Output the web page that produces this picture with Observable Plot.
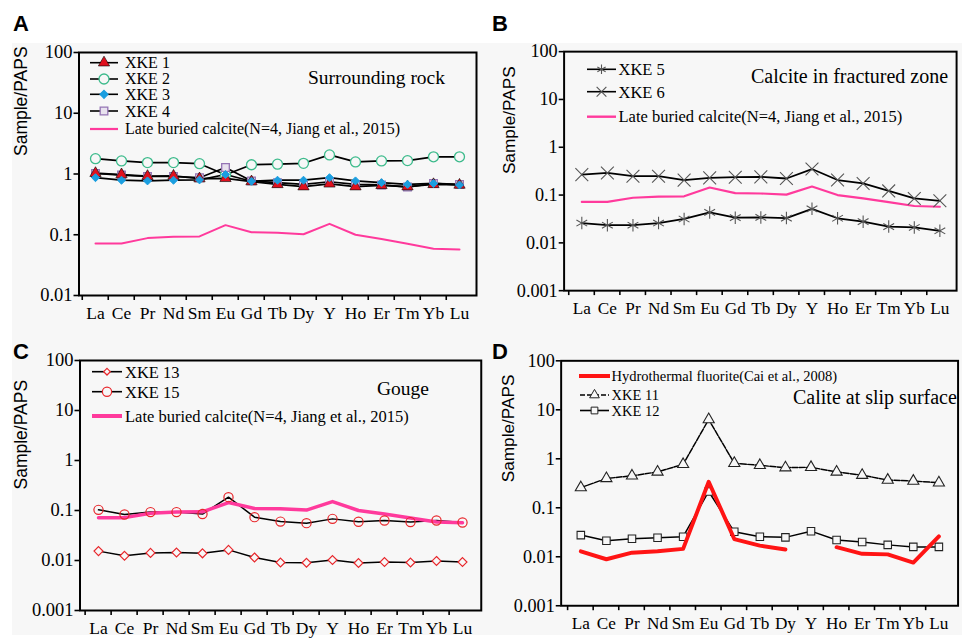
<!DOCTYPE html>
<html><head><meta charset="utf-8">
<script src="https://cdn.jsdelivr.net/npm/d3@7"></script>
<script src="https://cdn.jsdelivr.net/npm/@observablehq/plot@0.6"></script>
<style>
html,body{margin:0;padding:0;background:#fff;overflow:hidden;}
#wrap{position:relative;width:962px;height:640px;overflow:hidden;}
#bg{position:absolute;left:12px;top:43px;width:950px;height:592px;background:#f7f7f7;}
.panel{position:absolute;}
.panel svg{overflow:visible;}
#overlay{position:absolute;left:0;top:0;}
</style></head><body>
<div id="wrap"><div id="bg"></div></div>
<script>
// ---------- data ----------
const elements = ["La","Ce","Pr","Nd","Sm","Eu","Gd","Tb","Dy","Y","Ho","Er","Tm","Yb","Lu"];
const yTicksA = [0.01, 0.1, 1, 10, 100];
const yTicks = [0.001, 0.01, 0.1, 1, 10, 100];

// Late buried calcite (N=4, Jiang et al., 2015)
const lateBuried = [0.072,0.072,0.088,0.093,0.094,0.144,0.110,0.108,0.102,0.151,0.100,0.085,0.071,0.059,0.057];
// Panel A – surrounding rock
const xke1 = [1.03,0.98,0.92,0.93,0.84,0.85,0.75,0.675,0.62,0.69,0.62,0.65,0.62,0.675,0.66];
const xke2 = [1.79,1.64,1.54,1.54,1.48,0.97,1.42,1.45,1.50,2.06,1.58,1.64,1.66,1.92,1.92];
const xke3 = [0.87,0.79,0.77,0.79,0.80,0.98,0.76,0.79,0.79,0.87,0.77,0.72,0.675,0.70,0.66];
const xke4 = [1.02,0.96,0.91,0.91,0.87,1.28,0.77,0.72,0.675,0.745,0.675,0.66,0.61,0.70,0.675];
// Panel B – calcite in fractured zone
const xke5 = [0.026,0.0234,0.0234,0.026,0.0316,0.0434,0.0337,0.034,0.033,0.0516,0.0327,0.0278,0.0219,0.021,0.0179];
const xke6 = [0.268,0.29,0.248,0.248,0.205,0.229,0.236,0.24,0.222,0.35,0.206,0.175,0.122,0.085,0.076];
// Panel C – gouge
const xke13 = [0.0154,0.0124,0.0142,0.0144,0.0139,0.0163,0.0115,0.0091,0.009,0.0102,0.0089,0.0093,0.0091,0.0098,0.0093];
const xke15 = [0.103,0.083,0.093,0.093,0.085,0.185,0.0736,0.060,0.0558,0.068,0.0596,0.063,0.0586,0.063,0.0575];
// Panel D – calcite at slip surface
const fluorite = [0.0129,0.0089,0.0121,0.013,0.0145,0.34,0.023,0.0169,0.0141,null,0.0157,0.0115,0.0112,0.0076,0.026];
const xke11 = [0.258,0.397,0.449,0.54,0.77,6.34,0.81,0.735,0.66,0.67,0.54,0.463,0.368,0.351,0.325];
const xke12 = [0.0277,0.0213,0.0234,0.0245,0.0257,0.215,0.0323,0.0257,0.0249,0.0333,0.022,0.02,0.0175,0.0159,0.0159];

// ---------- helpers ----------
const rows = vals => vals.map((v, i) => ({el: elements[i], v}));
const PINK = "#ff3a9c", RED = "#ff1414", BG = "#f7f7f7";
const serif = "'Liberation Serif','Times New Roman',serif";
const sans = "'Liberation Sans',Arial,sans-serif";
const wrap = document.getElementById("wrap");

function panel(o) {
  const step = (o.width - o.ml - o.mr) / elements.length;
  const svg = Plot.plot({
    width: o.width, height: o.height,
    marginLeft: o.ml, marginRight: o.mr, marginTop: o.mt, marginBottom: o.mb,
    style: {fontFamily: serif, fontSize: "17.5px", color: "#000", background: "transparent", overflow: "visible"},
    x: {type: "point", domain: elements, padding: 0.5, axis: null},
    y: {type: "log", domain: o.ydomain, axis: null},
    marks: [
      ...o.marks,
      Plot.axisY({ticks: o.yticks, tickFormat: d => String(d), tickSize: 5, tickPadding: 1.5, strokeWidth: 1.6, fontSize: 18.5, label: null}),
      Plot.axisX({tickSize: 5, tickFormat: () => "", dx: -step / 2, strokeWidth: 1.6, label: null}),
      Plot.axisX({tickSize: 0, tickPadding: 11, fontSize: 17.5, label: null}),
      Plot.frame({stroke: "#000", strokeWidth: 2}),
      Plot.text(["Sample/PAPS"], {frameAnchor: "left", rotate: -90, dx: o.labelDx, dy: o.labelDy,
        fontFamily: sans, fontSize: 17.5, fill: "#000"})
    ]
  });
  const div = document.createElement("div");
  div.className = "panel";
  div.style.left = o.left + "px";
  div.style.top = o.top + "px";
  div.appendChild(svg);
  wrap.appendChild(div);
}

const line = (vals, opts) => Plot.line(rows(vals), {x: "el", y: "v", stroke: "#000", strokeWidth: 1.7, ...opts});
const dots = (vals, opts) => Plot.dot(rows(vals), {x: "el", y: "v", ...opts});

// Panel A
panel({left: 0, top: 0, width: 480, height: 330, ml: 78.5, mr: 4, mt: 52, mb: 35,
  ydomain: [0.01, 100], yticks: yTicksA, labelDx: -58, labelDy: -18,
  marks: [
    line(lateBuried, {stroke: PINK, strokeWidth: 2}),
    line(xke2), line(xke4), line(xke1), line(xke3),
    dots(xke2, {symbol: "circle", r: 5, stroke: "#3dbb8c", strokeWidth: 1.3, fill: BG}),
    dots(xke4, {symbol: "square", r: 4.3, stroke: "#9474b4", strokeWidth: 1.3, fill: "#e8e2ee"}),
    dots(xke1, {symbol: "triangle", r: 4.2, fill: "#e0101e", stroke: "#000", strokeWidth: 0.6}),
    dots(xke3, {symbol: "diamond2", r: 3.6, fill: "#1a9ee0", stroke: "#1a9ee0", strokeWidth: 1})
  ]});

// Panel B
panel({left: 480, top: 0, width: 490, height: 330, ml: 85, mr: 6, mt: 52, mb: 35,
  ydomain: [0.001, 100], yticks: yTicks, labelDx: -56, labelDy: 3,
  marks: [
    line(lateBuried, {stroke: PINK, strokeWidth: 2.2}),
    line(xke6, {strokeWidth: 1.8}), line(xke5, {strokeWidth: 1.8}),
    dots(xke6, {symbol: "times", r: 6, stroke: "#555", strokeWidth: 1.1}),
    dots(xke5, {symbol: "asterisk", r: 6, stroke: "#555", strokeWidth: 1.1})
  ]});

// Panel C
panel({left: 0, top: 320, width: 482, height: 330, ml: 79.5, mr: 1.25, mt: 40, mb: 40,
  ydomain: [0.001, 100], yticks: yTicks, labelDx: -59, labelDy: 4,
  marks: [
    line(xke15, {strokeWidth: 1.5}), line(xke13, {strokeWidth: 1.5}),
    line(lateBuried, {stroke: PINK, strokeWidth: 3.5}),
    dots(xke15, {symbol: "circle", r: 4.6, stroke: "#e8262b", strokeWidth: 1.2, fill: "none"}),
    dots(xke13, {symbol: "diamond2", r: 4, stroke: "#e8262b", strokeWidth: 1.2, fill: BG})
  ]});

// Panel D
panel({left: 480, top: 320, width: 490, height: 330, ml: 82, mr: 4.5, mt: 41, mb: 40,
  ydomain: [0.001, 100], yticks: yTicks, labelDx: -53.5, labelDy: -1,
  marks: [
    line(xke11, {strokeWidth: 1.5, strokeDasharray: "6,1.5"}),
    line(xke12, {strokeWidth: 1.5}),
    dots(xke11, {symbol: "triangle", r: 4.2, stroke: "#222", strokeWidth: 1.1, fill: BG}),
    dots(xke12, {symbol: "square", r: 4.3, stroke: "#222", strokeWidth: 1.1, fill: BG}),
    line(fluorite, {stroke: RED, strokeWidth: 4})
  ]});

// ---------- overlay: panel letters, legends, annotations ----------
const ov = d3.select(wrap).append("svg").attr("id", "overlay").attr("width", 962).attr("height", 640);
const letters = [["A", 13, 31], ["B", 492, 31], ["C", 13, 359], ["D", 492, 359]];
ov.selectAll("text.letter").data(letters).join("text").attr("class", "letter")
  .attr("x", d => d[1]).attr("y", d => d[2]).text(d => d[0])
  .attr("font-family", sans).attr("font-weight", "bold").attr("font-size", 22).attr("fill", "#000");

function note(text, x, y, fs) {
  ov.append("text").attr("x", x).attr("y", y).text(text)
    .attr("font-family", serif).attr("font-size", fs).attr("fill", "#000");
}
function legendRow(o) {
  ov.append("line").attr("x1", o.x1).attr("x2", o.x2).attr("y1", o.y).attr("y2", o.y)
    .attr("stroke", o.stroke || "#000").attr("stroke-width", o.sw || 1.6)
    .attr("stroke-dasharray", o.dash || null);
  if (o.symbol) {
    const size = Math.PI * o.r * o.r;
    ov.append("path").attr("d", d3.symbol(o.symbol, size)())
      .attr("transform", `translate(${(o.x1 + o.x2) / 2},${o.y})`)
      .attr("fill", o.mfill || "none").attr("stroke", o.mstroke || "none").attr("stroke-width", o.msw || 1.2);
  }
  note(o.text, o.tx, o.ty, o.fs);
}
const lateLabel = "Late buried calcite(N=4, Jiang et al., 2015)";
// A
legendRow({x1: 90, x2: 118, y: 62.7, symbol: d3.symbolTriangle, r: 4.2, mfill: "#e0101e", mstroke: "#000", msw: 0.6, text: "XKE 1", tx: 125, ty: 68.3, fs: 16});
legendRow({x1: 90, x2: 118, y: 79, symbol: d3.symbolCircle, r: 5, mfill: BG, mstroke: "#3dbb8c", msw: 1.3, text: "XKE 2", tx: 125, ty: 84.3, fs: 16});
legendRow({x1: 90, x2: 118, y: 94.3, symbol: d3.symbolDiamond2, r: 3.6, mfill: "#1a9ee0", mstroke: "#1a9ee0", text: "XKE 3", tx: 125, ty: 100, fs: 16});
legendRow({x1: 90, x2: 118, y: 111, symbol: d3.symbolSquare, r: 4.3, mfill: "#e8e2ee", mstroke: "#9474b4", msw: 1.3, text: "XKE 4", tx: 125, ty: 116.7, fs: 16});
legendRow({x1: 90, x2: 118, y: 129, stroke: PINK, sw: 2.2, text: lateLabel, tx: 125, ty: 134, fs: 16});
note("Surrounding rock", 308, 84, 19.5);
// B
legendRow({x1: 587, x2: 616, y: 69.3, symbol: d3.symbolAsterisk, r: 4.5, mstroke: "#555", msw: 1.1, text: "XKE 5", tx: 618.5, ty: 75, fs: 16.5});
legendRow({x1: 587, x2: 616, y: 91.7, symbol: d3.symbolTimes, r: 4.5, mstroke: "#555", msw: 1.1, text: "XKE 6", tx: 618.5, ty: 97.5, fs: 16.5});
legendRow({x1: 587, x2: 616, y: 116.7, stroke: PINK, sw: 2.4, text: lateLabel, tx: 618.5, ty: 122, fs: 16.5});
note("Calcite in fractured zone", 751, 83, 20);
// C
legendRow({x1: 92, x2: 122, y: 371.7, symbol: d3.symbolDiamond2, r: 3, mfill: BG, mstroke: "#e8262b", text: "XKE 13", tx: 125, ty: 377.5, fs: 16.5});
legendRow({x1: 92, x2: 122, y: 391.7, symbol: d3.symbolCircle, r: 4.6, mfill: BG, mstroke: "#e8262b", text: "XKE 15", tx: 125, ty: 397.5, fs: 16.5});
legendRow({x1: 92, x2: 122, y: 416, stroke: PINK, sw: 4, text: lateLabel, tx: 125, ty: 421.5, fs: 16.5});
note("Gouge", 377, 394.5, 19.5);
// D
legendRow({x1: 579, x2: 610, y: 376, stroke: RED, sw: 4, text: "Hydrothermal fluorite(Cai et al., 2008)", tx: 611.5, ty: 381, fs: 14.5});
legendRow({x1: 580, x2: 609, y: 395, dash: "5,2", symbol: d3.symbolTriangle, r: 3.6, mfill: BG, mstroke: "#222", msw: 1, text: "XKE 11", tx: 611.5, ty: 400, fs: 14.5});
legendRow({x1: 580, x2: 609, y: 410.5, symbol: d3.symbolSquare, r: 3.8, mfill: BG, mstroke: "#222", msw: 1, text: "XKE 12", tx: 611.5, ty: 415.5, fs: 14.5});
note("Calite at slip surface", 793, 404, 20);
</script>
</body></html>
